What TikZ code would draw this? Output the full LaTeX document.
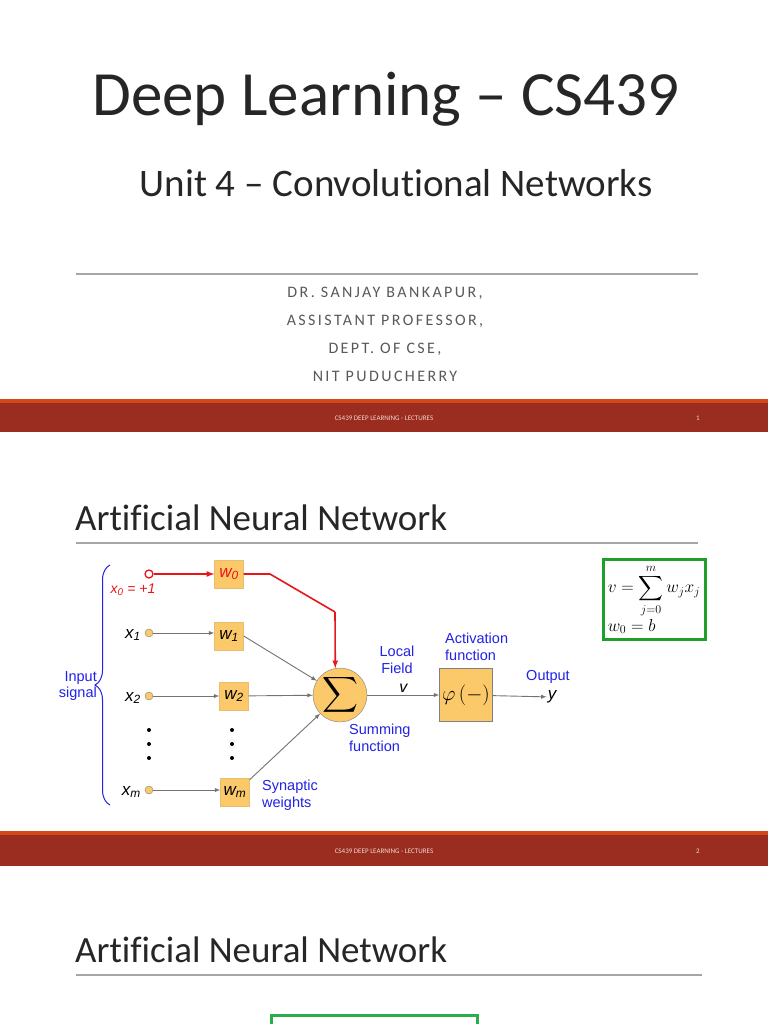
\documentclass[tikz,border=0pt]{standalone}
\usepackage{amsmath}
\usepackage{fontspec}
\usepackage{tikz}
\usetikzlibrary{decorations.pathreplacing}
\setmainfont{Carlito}[Ligatures=NoCommon]
\newfontfamily\arialfont{Liberation Sans}
\newfontfamily\spacedfont[LetterSpace=15]{Carlito}
\definecolor{barred}{HTML}{9A2D1F}
\definecolor{barorange}{HTML}{D4491A}
\definecolor{rulegray}{HTML}{A6A6A6}
\definecolor{titlegray}{HTML}{262626}
\definecolor{txtgray}{HTML}{595959}
\definecolor{lblblue}{HTML}{2222E6}
\definecolor{sigred}{HTML}{E8161B}
\definecolor{wfill}{HTML}{FBC86A}
\definecolor{eqgreen}{HTML}{1E9E2A}
\definecolor{boxgreen}{HTML}{2AAE4A}
\definecolor{foottxt}{HTML}{F4D6CF}
\tikzset{
  wbox/.style={fill=wfill, draw=wfill!85!gray, minimum width=29pt, minimum height=28pt, inner sep=0pt, font=\arialfont\itshape\fontsize{17}{17}\selectfont},
  inode/.style={circle, draw=gray, fill=wfill, minimum size=8pt, inner sep=0pt},
  xlbl/.style={font=\arialfont\itshape\fontsize{17}{17}\selectfont, anchor=east, inner sep=1pt},
  blbl/.style={font=\arialfont\fontsize{14.5}{16.5}\selectfont, text=lblblue, inner sep=0pt},
  syn/.style={->, draw=gray!90!black, line width=0.9pt},
  sig/.style={->, draw=sigred, line width=1.6pt},
  foot/.style={font=\fontsize{7}{7}\selectfont, text=foottxt},
}
\begin{document}
\begin{tikzpicture}[x=1pt, y=-1pt, >=latex]
\useasboundingbox[fill=white] (0,0) rectangle (768,1024);
\node[anchor=base, inner sep=0pt, text=titlegray, font=\fontsize{63}{63}\selectfont] (deck) at (386,116) {Deep Learning – CS439};
\node[anchor=base, inner sep=0pt, text=titlegray, font=\fontsize{39}{39}\selectfont] (unit) at (396,197) {Unit 4 – Convolutional Networks};
\draw[rulegray, line width=1.2pt] (76,274) -- (698,274);
\node[anchor=base, inner sep=0pt, text=txtgray, font=\spacedfont\fontsize{16}{16}\selectfont] (auth1) at (385,297) {DR. SANJAY BANKAPUR,};
\node[anchor=base, inner sep=0pt, text=txtgray, font=\spacedfont\fontsize{16}{16}\selectfont] (auth2) at (385,325) {ASSISTANT PROFESSOR,};
\node[anchor=base, inner sep=0pt, text=txtgray, font=\spacedfont\fontsize{16}{16}\selectfont] (auth3) at (385,353) {DEPT. OF CSE,};
\node[anchor=base, inner sep=0pt, text=txtgray, font=\spacedfont\fontsize{16}{16}\selectfont] (auth4) at (385,381) {NIT PUDUCHERRY};
\fill[barorange] (0,399) rectangle (768,404);
\fill[barred] (0,403) rectangle (768,432);
\node[foot] (foot1) at (384,418) {CS439 DEEP LEARNING - LECTURES};
\node[foot] (page1) at (698,418) {1};

\node[anchor=base west, inner sep=0pt, text=titlegray, font=\fontsize{37}{37}\selectfont] (anntitle) at (75,530) {Artificial Neural Network};
\draw[rulegray, line width=1.2pt] (76,543) -- (698,543);

\node[inode, draw=sigred, fill=white, line width=1.3pt] (x0) at (149,574) {};
\node[inode] (x1) at (149,633) {};
\node[inode] (x2) at (149,696) {};
\node[inode] (xm) at (149,790) {};
\node[xlbl, anchor=center, text=sigred, font=\arialfont\itshape\fontsize{14}{14}\selectfont] (x0lbl) at (133,590) {x\textsubscript{0} = +1};
\node[xlbl] (x1lbl) at (142,635) {x\textsubscript{1}};
\node[xlbl] (x2lbl) at (142,698) {x\textsubscript{2}};
\node[xlbl] (xmlbl) at (142,792) {x\textsubscript{m}};
\node[wbox, text=sigred] (w0) at (229,574) {w\textsubscript{0}};
\node[wbox] (w1) at (229,636) {w\textsubscript{1}};
\node[wbox] (w2) at (234,696) {w\textsubscript{2}};
\node[wbox] (wm) at (235,792) {w\textsubscript{m}};
\foreach \dy in {730,744,758} {
  \fill (149,\dy) circle (2);
  \fill (232,\dy) circle (2);
}
\node[circle, fill=wfill, draw=gray, minimum size=54pt, inner sep=0pt] (sum) at (340,695) {\fontsize{24}{24}\selectfont$\displaystyle\sum$};
\node[fill=wfill, draw=gray, minimum size=53pt, inner sep=0pt] (phi) at (466,695) {\fontsize{21}{21}\selectfont$\varphi\,(-)$};
\node[font=\arialfont\itshape\fontsize{17}{17}\selectfont, inner sep=1pt] (yout) at (552,697) {y};
\coordinate (r1) at (270,574);
\coordinate (r2) at (335,612);
\draw[sig] (x0) -- (w0);
\draw[sig, -] (w0) -- (r1) -- (r2);
\draw[sig] (r2) -- (sum.100);
\draw[syn] (x1) -- (x1 -| w1.west);
\draw[syn] (x2) -- (w2);
\draw[syn] (xm) -- (xm -| wm.west);
\draw[syn] (w1.east) -- (sum);
\draw[syn] (w2) -- (sum);
\draw[syn] (wm.40) -- (sum);
\draw[syn] (sum) -- node[above, font=\arialfont\itshape\fontsize{16}{16}\selectfont, inner sep=2pt] {v} (phi);
\draw[syn] (phi) -- (yout);
\draw[lblblue, line width=1pt, decorate, decoration={brace, amplitude=15pt}] (110,805) -- (110,565);
\node[blbl, anchor=east, align=right] (inlbl) at (97,686) {Input\\signal};
\node[blbl, anchor=west, align=left] (synlbl) at (262,795) {Synaptic\\weights};
\node[blbl, anchor=west, align=left] (sumlbl) at (349,738) {Summing\\function};
\node[blbl, align=center] (loclbl) at (397,660) {Local\\Field};
\node[blbl, anchor=west, align=left] (actlbl) at (445,647) {Activation\\function};
\node[blbl] (outlbl) at (548,677) {Output};
\node[draw=eqgreen, line width=3pt, minimum width=102pt, minimum height=80pt, inner sep=3pt, align=left, font=\fontsize{17}{20}\selectfont] (eq) at (654,599) {$\displaystyle v=\sum_{j=0}^{m}w_jx_j$\\[1pt]$w_0=b$};
\fill[barorange] (0,831) rectangle (768,836);
\fill[barred] (0,835) rectangle (768,866);
\node[foot] (foot2) at (384,851) {CS439 DEEP LEARNING - LECTURES};
\node[foot] (page2) at (698,851) {2};

\node[anchor=base west, inner sep=0pt, text=titlegray, font=\fontsize{37}{37}\selectfont] (anntitle2) at (75,962) {Artificial Neural Network};
\draw[rulegray, line width=1.2pt] (76,975) -- (702,975);
\draw[boxgreen, line width=3pt] (271,1024) -- (271,1015) -- (477,1015) -- (477,1024);
\end{tikzpicture}
\end{document}
